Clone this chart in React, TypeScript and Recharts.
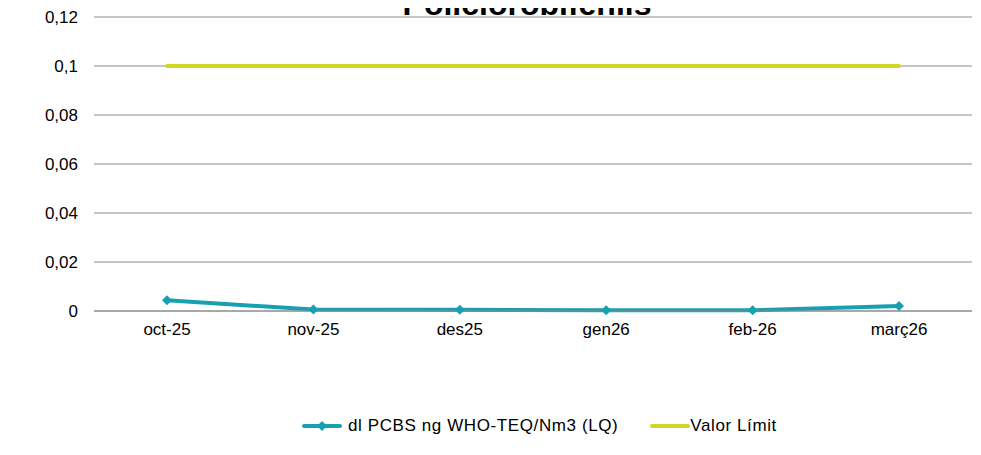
import React from "react"
import { LineChart, Line, XAxis, YAxis, CartesianGrid, Legend } from "recharts"

const months = ["oct-25", "nov-25", "des25", "gen26", "feb-26", "març26"]
const pcbs = [0.0044, 0.0006, 0.0005, 0.0003, 0.0003, 0.002]
const limit = [0.1, 0.1, 0.1, 0.1, 0.1, 0.1]
const yTicks = [0, 0.02, 0.04, 0.06, 0.08, 0.1, 0.12]

const data = months.map((m, i) => ({ month: m, pcbs: pcbs[i], limit: limit[i] }))

const TEAL = "#17a0b2"
const LIME = "#cfd725"
const FONT = "'Liberation Sans', Arial, sans-serif"

const fmt = (v: number) => String(v).replace(".", ",")

const Diamond = (props: any) => {
  const { cx, cy } = props
  if (cx == null || cy == null) return null
  const r = 5
  return <polygon points={`${cx},${cy - r} ${cx + r},${cy} ${cx},${cy + r} ${cx - r},${cy}`} fill={TEAL} />
}

function LegendBox() {
  return (
    <div style={{ display: "flex", alignItems: "center", paddingLeft: 302, fontFamily: FONT, fontSize: 17, letterSpacing: 0.6, color: "#000", height: 24, whiteSpace: "nowrap" }}>
      <svg width={40} height={12} style={{ marginRight: 6 }}>
        <line x1={2} y1={6} x2={38} y2={6} stroke={TEAL} strokeWidth={4} strokeLinecap="round" />
        <polygon points="20,1 25,6 20,11 15,6" fill={TEAL} />
      </svg>
      <span>dl PCBS ng WHO-TEQ/Nm3 (LQ)</span>
      <svg width={40} height={12} style={{ marginLeft: 32 }}>
        <line x1={2} y1={6} x2={38} y2={6} stroke={LIME} strokeWidth={4} strokeLinecap="round" />
      </svg>
      <span>Valor Límit</span>
    </div>
  )
}

export default function App() {
  return (
    <div style={{ position: "relative", width: 981, height: 455, margin: -8, overflow: "hidden", background: "#fff" }}>
      <div style={{ position: "absolute", left: 0, width: 1054, top: -16, textAlign: "center", fontFamily: FONT, fontWeight: "bold", fontSize: 32, color: "#000", lineHeight: "40px" }}>
        Policlorobifenils
      </div>
      <div style={{ position: "absolute", left: -4, top: -100, width: 2000, height: 558, boxSizing: "border-box", border: `2px solid ${TEAL}`, borderRadius: 20 }} />
      <div style={{ position: "absolute", left: 0, top: 0 }}>
        <LineChart width={981} height={455} data={data} margin={{ top: 17, right: 9, bottom: 90, left: 0 }}>
          <CartesianGrid vertical={false} stroke="#8c8c8c" strokeWidth={1} />
          <XAxis
            dataKey="month"
            height={30}
            padding={{ left: 73, right: 73 }}
            tickLine={false}
            axisLine={{ stroke: "#8c8c8c" }}
            tick={{ fill: "#000", fontSize: 17, fontFamily: FONT }}
            tickMargin={6}
          />
          <YAxis
            width={94}
            domain={[0, 0.12]}
            ticks={yTicks}
            tickFormatter={fmt}
            axisLine={false}
            tickLine={false}
            tick={{ fill: "#000", fontSize: 17, fontFamily: FONT }}
            tickMargin={10}
          />
          <Legend height={24} content={<LegendBox />} wrapperStyle={{ top: 414, bottom: "auto", left: 0, width: 981 }} />
          <Line dataKey="limit" stroke={LIME} strokeWidth={4} dot={false} strokeLinecap="round" isAnimationActive={false} />
          <Line dataKey="pcbs" stroke={TEAL} strokeWidth={4} dot={<Diamond />} activeDot={false} isAnimationActive={false} />
        </LineChart>
      </div>
    </div>
  )
}
